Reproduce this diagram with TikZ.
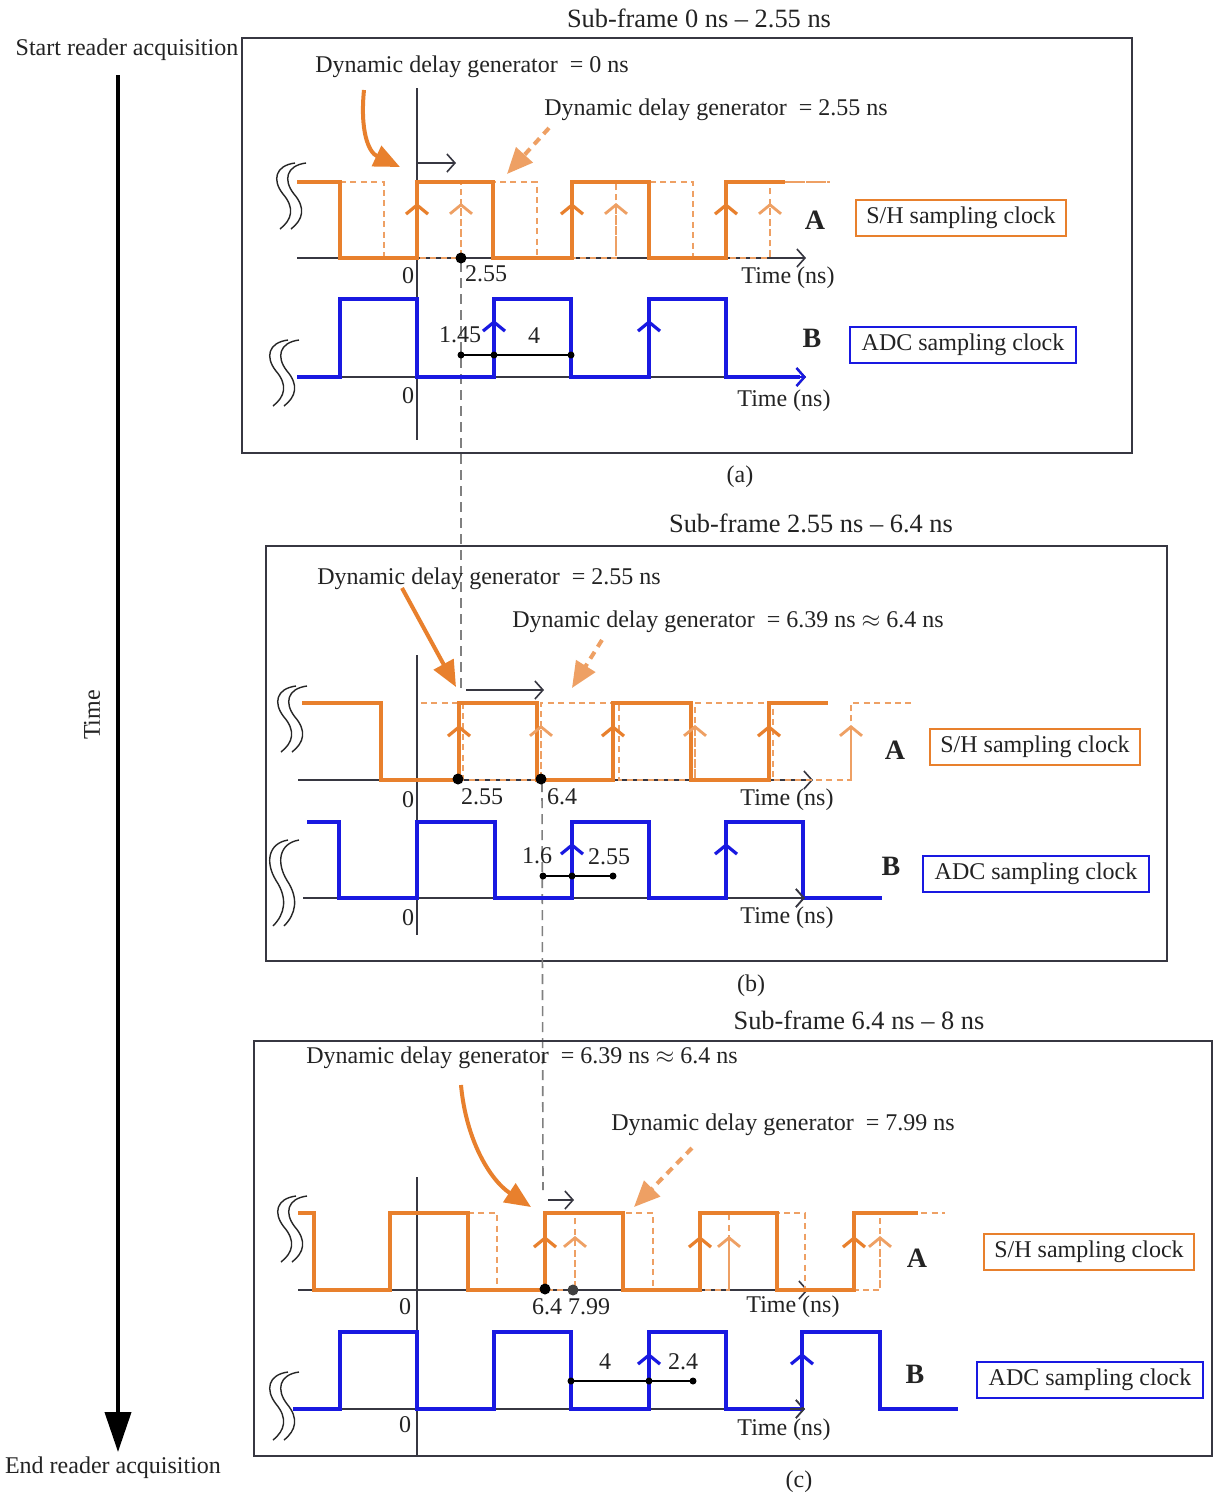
\documentclass[tikz,border=0pt]{standalone}
\usepackage{fontspec}
\setmainfont{Liberation Serif}
\usetikzlibrary{arrows.meta}
\definecolor{orng}{RGB}{232,128,45}
\definecolor{lorng}{RGB}{238,160,100}
\definecolor{blu}{RGB}{25,25,225}
\definecolor{axc}{RGB}{55,55,65}
\definecolor{txtc}{RGB}{35,35,35}
% S-shaped double squiggle: #1 = left x, #2 = top y, #3 = height
\newcommand\mysquig[3]{%
  \foreach \dx in {0,11}{%
  \draw[sqg] (#1+\dx+19,#2) .. controls (#1+\dx-1,#2+0.04*#3) and (#1+\dx-4,#2+0.26*#3) .. (#1+\dx+7,#2+0.47*#3)
     .. controls (#1+\dx+19,#2+0.68*#3) and (#1+\dx+16,#2+0.86*#3) .. (#1+\dx+4,#2+#3);}}
\begin{document}
\begin{tikzpicture}[x=0.5pt,y=-0.5pt,
  tx/.style={text=txtc,font=\fontsize{12}{14}\selectfont,inner sep=0pt},
  ttl/.style={text=txtc,font=\fontsize{13.2}{15}\selectfont,inner sep=0pt},
  bl/.style={text=txtc,font=\fontsize{14}{16}\selectfont\bfseries,inner sep=0pt},
  shbox/.style={tx,draw=orng,line width=1.3pt,minimum height=18pt,minimum width=105pt},
  adcbox/.style={tx,draw=blu,line width=1.3pt,minimum height=18pt,minimum width=113pt},
  frame/.style={draw=axc,line width=1pt},
  sw/.style={orng,line width=1.6pt},
  dw/.style={lorng,line width=1.4pt,dash pattern=on 3pt off 2.2pt},
  bw/.style={blu,line width=1.6pt},
  ax/.style={axc,line width=0.8pt,-{Straight Barb[length=4pt,width=9pt]}},
  vax/.style={axc,line width=0.8pt},
  gdash/.style={gray,line width=0.8pt,dash pattern=on 5pt off 3pt},
  upo/.style={orng,line width=1.6pt,-{Straight Barb[length=4.5pt,width=11pt]}},
  upd/.style={lorng,line width=1.4pt,dash pattern=on 3pt off 2.2pt,-{Straight Barb[length=4.5pt,width=11pt]}},
  upb/.style={blu,line width=1.6pt,-{Straight Barb[length=4.5pt,width=11pt]}},
  bigo/.style={orng,line width=2pt,-{Triangle[length=13pt,width=11pt]}},
  bigd/.style={lorng,line width=2pt,dash pattern=on 4pt off 3pt,-{Triangle[length=13pt,width=11pt]}},
  sarr/.style={axc,line width=0.8pt,-{Straight Barb[length=4pt,width=9pt]}},
  bdot/.style={circle,fill=black,inner sep=0pt,minimum size=5.5pt},
  sdot/.style={circle,fill=black,inner sep=0pt,minimum size=3.5pt},
  meas/.style={black,line width=0.8pt},
  sqg/.style={black!85,line width=0.7pt}]
\useasboundingbox (0,0) rectangle (1213,1496);
\fill[white] (0,0) rectangle (1213,1496);

% ---------- left time arrow ----------
\node[tx] (start) at (127,50) {Start reader acquisition};
\node[tx] (end) at (113,1468) {End reader acquisition};
\node[tx,rotate=90] (tlab) at (92,715) {Time};
\coordinate (tA) at (118,75);
\coordinate (tB) at (118,1452);
\draw[black,line width=2pt,-{Triangle[length=20pt,width=13pt]}] (tA) -- (tB);

% =============== PANEL (a) ===============
\draw[frame] (242,38) rectangle (1132,453);
\node[ttl] (ta) at (699,18) {Sub-frame 0 ns -- 2.55 ns};
\node[tx] (capa) at (740,477) {(a)};
\node[tx] (da1) at (472,67) {Dynamic delay generator \ = 0 ns};
\node[tx] (da2) at (716,110) {Dynamic delay generator \ = 2.55 ns};
\draw[vax] (417,88) -- (417,440);
\draw[gdash] (461,262) -- (461,690);
% A
\draw[ax] (297,258) -- (806,258);
\draw[dw] (340,182) -- (384,182) -- (384,258) -- (461,258) -- (461,182) -- (537,182) -- (537,258) -- (616,258) -- (616,182) -- (693,182) -- (693,258) -- (770,258) -- (770,182) -- (830,182);
\draw[sw] (297,182) -- (340,182) -- (340,258) -- (417,258) -- (417,182) -- (493,182) -- (493,258) -- (572,258) -- (572,182) -- (649,182) -- (649,258) -- (726,258) -- (726,182) -- (785,182);
\draw[dw] (785,182) -- (830,182);
\foreach \x in {417,572,726} \draw[upo] (\x,256) -- (\x,203);
\foreach \x in {461,616,770} \draw[upd] (\x,256) -- (\x,203);
\mysquig{276}{163}{66}
\node[bdot] (pa) at (461,258) {};
\node[tx] (a0) at (408,276) {0};
\node[tx] (a255) at (486,274) {2.55};
\node[tx] (atime) at (788,278) {Time (ns)};
\node[bl] (aA) at (815,220) {A};
\node[shbox] (ash) at (961,218) {S/H sampling clock};
\coordinate (sa1) at (417,163); \coordinate (sa2) at (456,163);
\draw[sarr] (sa1) -- (sa2);
\coordinate (oa1) at (364,90); \coordinate (oa2) at (400,167);
\draw[bigo] (oa1) .. controls (360,130) and (368,152) .. (oa2);
\coordinate (da) at (549,128); \coordinate (da3) at (507,174);
\draw[bigd] (da) -- (da3);
% B
\draw[ax] (297,377) -- (806,377);
\draw[bw] (297,377) -- (340,377) -- (340,299) -- (417,299) -- (417,377) -- (494,377) -- (494,299) -- (571,299) -- (571,377) -- (649,377) -- (649,299) -- (726,299) -- (726,377) -- (800,377);
\draw[blu,line width=1.2pt,-{Straight Barb[length=4pt,width=9pt]}] (790,377) -- (806,377);
\foreach \x in {494,649} \draw[upb] (\x,375) -- (\x,320);
\mysquig{269}{340}{66}
\coordinate (ma1) at (461,355); \coordinate (ma2) at (571,355);
\draw[meas] (ma1) -- (ma2);
\node[sdot] (m1) at (461,355) {}; \node[sdot] (m2) at (494,355) {}; \node[sdot] (m3) at (571,355) {};
\node[tx] (a145) at (460,335) {1.45};
\node[tx] (a4) at (534,336) {4};
\node[bl] (aB) at (812,338) {B};
\node[adcbox] (aadc) at (963,345) {ADC sampling clock};
\node[tx] (a0b) at (408,396) {0};
\node[tx] (atimeb) at (784,401) {Time (ns)};

% =============== PANEL (b) ===============
\draw[frame] (266,546) rectangle (1167,961);
\node[ttl] (tb) at (811,523) {Sub-frame 2.55 ns -- 6.4 ns};
\node[tx] (capb) at (751,986) {(b)};
\node[tx] (db1) at (489,579) {Dynamic delay generator \ = 2.55 ns};
\node[tx] (db2) at (728,622) {Dynamic delay generator \ = 6.39 ns $\approx$ 6.4 ns};
\draw[vax] (417,655) -- (417,935);
\draw[gdash] (542,782) -- (543,1190);
% A
\draw[ax] (298,780) -- (813,780);
\draw[dw] (421,703) -- (463,703) -- (463,780) -- (541,780) -- (541,703) -- (619,703) -- (619,780) -- (695,780) -- (695,703) -- (773,703) -- (773,780) -- (851,780) -- (851,703) -- (912,703);
\draw[sw] (302,703) -- (381,703) -- (381,780) -- (459,780) -- (459,703) -- (537,703) -- (537,780) -- (613,780) -- (613,703) -- (691,703) -- (691,780) -- (769,780) -- (769,703) -- (828,703);
\foreach \x in {459,613,769} \draw[upo] (\x,778) -- (\x,725);
\foreach \x in {541,695,851} \draw[upd] (\x,778) -- (\x,725);
\mysquig{277}{686}{66}
\node[bdot] (pb1) at (458,779) {};
\node[bdot] (pb2) at (541,779) {};
\node[tx] (b0) at (408,800) {0};
\node[tx] (b255) at (482,797) {2.55};
\node[tx] (b64) at (562,797) {6.4};
\node[tx] (btime) at (787,800) {Time (ns)};
\node[bl] (bA) at (895,750) {A};
\node[shbox] (bsh) at (1035,747) {S/H sampling clock};
\coordinate (sb1) at (466,690); \coordinate (sb2) at (544,690);
\draw[sarr] (sb1) -- (sb2);
\coordinate (ob1) at (402,588); \coordinate (ob2) at (456,687);
\draw[bigo] (ob1) -- (ob2);
\coordinate (db) at (602,640); \coordinate (db3) at (572,688);
\draw[bigd] (db) -- (db3);
% B
\draw[ax] (303,898) -- (805,898);
\draw[bw] (307,822) -- (339,822) -- (339,898) -- (417,898) -- (417,822) -- (495,822) -- (495,898) -- (572,898) -- (572,822) -- (649,822) -- (649,898) -- (726,898) -- (726,822) -- (803,822) -- (803,898) -- (882,898);
\draw[axc,line width=0.8pt,-{Straight Barb[length=4pt,width=9pt]}] (790,898) -- (805,898);
\foreach \x in {572,726} \draw[upb] (\x,896) -- (\x,843);
\mysquig{269}{840}{86}
\coordinate (mb1) at (543,876); \coordinate (mb2) at (613,876);
\draw[meas] (mb1) -- (mb2);
\node[sdot] (n1) at (543,876) {}; \node[sdot] (n2) at (572,876) {}; \node[sdot] (n3) at (613,876) {};
\node[tx] (b16) at (537,856) {1.6};
\node[tx] (b255b) at (609,857) {2.55};
\node[bl] (bB) at (891,866) {B};
\node[adcbox] (badc) at (1036,874) {ADC sampling clock};
\node[tx] (b0b) at (408,918) {0};
\node[tx] (btimeb) at (787,918) {Time (ns)};

% =============== PANEL (c) ===============
\draw[frame] (254,1041) rectangle (1212,1456);
\node[ttl] (tc) at (859,1020) {Sub-frame 6.4 ns -- 8 ns};
\node[tx] (capc) at (799,1482) {(c)};
\node[tx] (dc1) at (522,1058) {Dynamic delay generator \ = 6.39 ns $\approx$ 6.4 ns};
\node[tx] (dc2) at (783,1125) {Dynamic delay generator \ = 7.99 ns};
\draw[vax] (417,1177) -- (417,1456);
% A
\draw[ax] (298,1290) -- (808,1290);
\draw[dw] (468,1213) -- (497,1213) -- (497,1290) -- (575,1290) -- (575,1213) -- (653,1213) -- (653,1290) -- (729,1290) -- (729,1213) -- (805,1213) -- (805,1290) -- (880,1290) -- (880,1213) -- (945,1213);
\draw[sw] (298,1213) -- (314,1213) -- (314,1290) -- (390,1290) -- (390,1213) -- (468,1213) -- (468,1290) -- (545,1290) -- (545,1213) -- (623,1213) -- (623,1290) -- (700,1290) -- (700,1213) -- (777,1213) -- (777,1290) -- (854,1290) -- (854,1213) -- (918,1213);
\foreach \x in {545,700,854} \draw[upo] (\x,1288) -- (\x,1236);
\foreach \x in {575,729,880} \draw[upd] (\x,1288) -- (\x,1236);
\mysquig{277}{1196}{66}
\node[bdot] (pc1) at (545,1289) {};
\node[bdot,fill=black!75] (pc2) at (573,1290) {};
\node[tx] (c0) at (405,1307) {0};
\node[tx] (c64) at (547,1307) {6.4};
\node[tx] (c799) at (589,1307) {7.99};
\node[tx] (ctime) at (793,1307) {Time (ns)};
\node[bl] (cA) at (917,1258) {A};
\node[shbox] (csh) at (1089,1252) {S/H sampling clock};
\coordinate (sc1) at (548,1200); \coordinate (sc2) at (574,1200);
\draw[sarr] (sc1) -- (sc2);
\coordinate (oc1) at (461,1085); \coordinate (oc2) at (531,1207);
\draw[bigo] (oc1) .. controls (466,1140) and (490,1180) .. (oc2);
\coordinate (dcs) at (692,1148); \coordinate (dc3) at (634,1207);
\draw[bigd] (dcs) -- (dc3);
% B
\draw[ax] (293,1409) -- (805,1409);
\draw[bw] (293,1409) -- (340,1409) -- (340,1332) -- (417,1332) -- (417,1409) -- (494,1409) -- (494,1332) -- (571,1332) -- (571,1409) -- (649,1409) -- (649,1332) -- (726,1332) -- (726,1409) -- (802,1409) -- (802,1332) -- (880,1332) -- (880,1409) -- (958,1409);
\draw[axc,line width=0.8pt,-{Straight Barb[length=4pt,width=9pt]}] (790,1409) -- (805,1409);
\foreach \x in {649,802} \draw[upb] (\x,1407) -- (\x,1353);
\mysquig{269}{1372}{68}
\coordinate (mc1) at (571,1381); \coordinate (mc2) at (693,1381);
\draw[meas] (mc1) -- (mc2);
\node[sdot] (k1) at (571,1381) {}; \node[sdot] (k2) at (649,1381) {}; \node[sdot] (k3) at (693,1381) {};
\node[tx] (c4) at (605,1362) {4};
\node[tx] (c24) at (683,1362) {2.4};
\node[bl] (cB) at (915,1374) {B};
\node[adcbox] (cadc) at (1090,1380) {ADC sampling clock};
\node[tx] (c0b) at (405,1425) {0};
\node[tx] (ctimeb) at (784,1430) {Time (ns)};
\end{tikzpicture}
\end{document}
